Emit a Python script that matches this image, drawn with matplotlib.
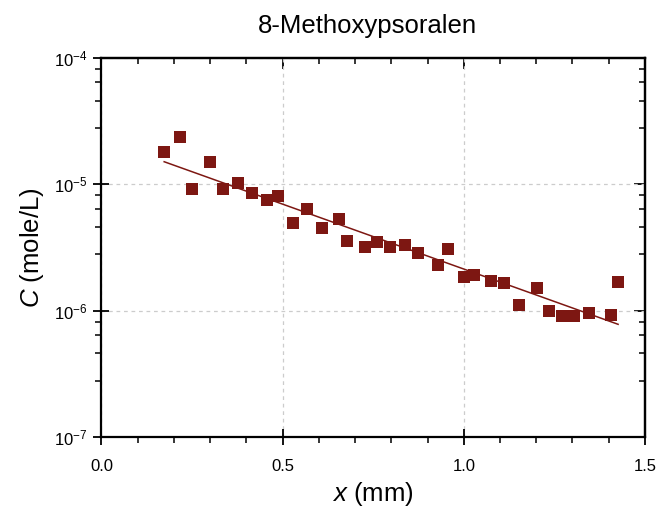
import matplotlib
matplotlib.use("Agg")
import matplotlib.pyplot as plt
from matplotlib.ticker import MultipleLocator, LogLocator, FuncFormatter, NullFormatter
import numpy as np

plt.rcParams['font.family'] = ['Liberation Sans', 'DejaVu Sans']
plt.rcParams['mathtext.fontset'] = 'custom'
plt.rcParams['mathtext.rm'] = 'Liberation Sans'
plt.rcParams['mathtext.it'] = 'Liberation Sans:italic'
plt.rcParams['mathtext.default'] = 'regular'

# data
x_mm = [0.173, 0.217, 0.249, 0.299, 0.335, 0.378, 0.415, 0.456, 0.488, 0.528,
        0.566, 0.608, 0.655, 0.679, 0.728, 0.760, 0.797, 0.838, 0.875, 0.928,
        0.956, 1.002, 1.028, 1.075, 1.112, 1.152, 1.202, 1.236, 1.270, 1.305,
        1.345, 1.407, 1.425]
conc = [1.79e-5, 2.38e-5, 9.2e-6, 1.49e-5, 9.2e-6, 1.02e-5, 8.5e-6, 7.5e-6,
        8.1e-6, 4.9e-6, 6.4e-6, 4.5e-6, 5.3e-6, 3.56e-6, 3.21e-6, 3.5e-6,
        3.18e-6, 3.29e-6, 2.84e-6, 2.29e-6, 3.08e-6, 1.85e-6, 1.93e-6,
        1.71e-6, 1.65e-6, 1.10e-6, 1.52e-6, 9.9e-7, 9.1e-7, 9.1e-7, 9.5e-7,
        9.2e-7, 1.69e-6]
fit_x = [0.173, 1.426]
fit_c = [1.51e-5, 7.8e-7]

RED = '#7d1712'

fig = plt.figure(figsize=(6.69, 5.22), dpi=100)
ax = fig.add_axes([0.1517, 0.1628, 0.8123, 0.7261])

ax.plot(x_mm, conc, 's', color=RED, markersize=8, markeredgewidth=0, zorder=3)
ax.plot(fit_x, fit_c, '-', color=RED, linewidth=1.1, zorder=2)

ax.set_yscale('log')
ax.set_xlim(0, 1.5)
ax.set_ylim(1e-7, 1e-4)

ax.xaxis.set_major_locator(MultipleLocator(0.5))
ax.xaxis.set_minor_locator(MultipleLocator(0.1))
ax.xaxis.set_major_formatter(FuncFormatter(lambda v, p: f'{v:.1f}'))
ax.yaxis.set_major_locator(LogLocator(base=10, numticks=10))
ax.yaxis.set_minor_locator(LogLocator(base=10, subs=(2.8, 4.6, 6.4, 8.2), numticks=20))
ax.yaxis.set_major_formatter(FuncFormatter(lambda v, p: r'$10^{%d}$' % round(np.log10(v))))
ax.yaxis.set_minor_formatter(NullFormatter())

ax.grid(True, which='major', color='#cccccc', linestyle=(0, (3, 3)), linewidth=0.9)
ax.set_axisbelow(True)

for s in ax.spines.values():
    s.set_linewidth(1.6)

ax.tick_params(which='major', direction='inout', length=12, width=1.3,
               labelsize=12, pad=4)
ax.tick_params(axis='x', which='major', pad=10)
ax.tick_params(which='minor', direction='out', length=4, width=1.1)

# mirrored ticks on top and right point inward
top = ax.secondary_xaxis('top')
top.xaxis.set_major_locator(MultipleLocator(0.5))
top.xaxis.set_minor_locator(MultipleLocator(0.1))
top.tick_params(which='major', direction='in', length=8, width=1.3, labeltop=False)
top.tick_params(which='minor', direction='in', length=4, width=1.1)
top.spines['top'].set_linewidth(1.6)

right = ax.secondary_yaxis('right')
right.yaxis.set_major_locator(LogLocator(base=10, numticks=10))
right.yaxis.set_minor_locator(LogLocator(base=10, subs=(2.8, 4.6, 6.4, 8.2), numticks=20))
right.tick_params(which='major', direction='in', length=8, width=1.3, labelright=False)
right.tick_params(which='minor', direction='in', length=4, width=1.1, labelright=False)
right.spines['right'].set_linewidth(1.6)

ax.set_xlabel(r'$\mathit{x}$ (mm)', fontsize=18.5, labelpad=4)
ax.set_ylabel(r'$\mathit{C}$ (mole/L)', fontsize=18.5, labelpad=6)
ax.set_title('8-Methoxypsoralen', fontsize=18.5, pad=18, x=0.49)

fig.savefig('out.png', dpi=100)
